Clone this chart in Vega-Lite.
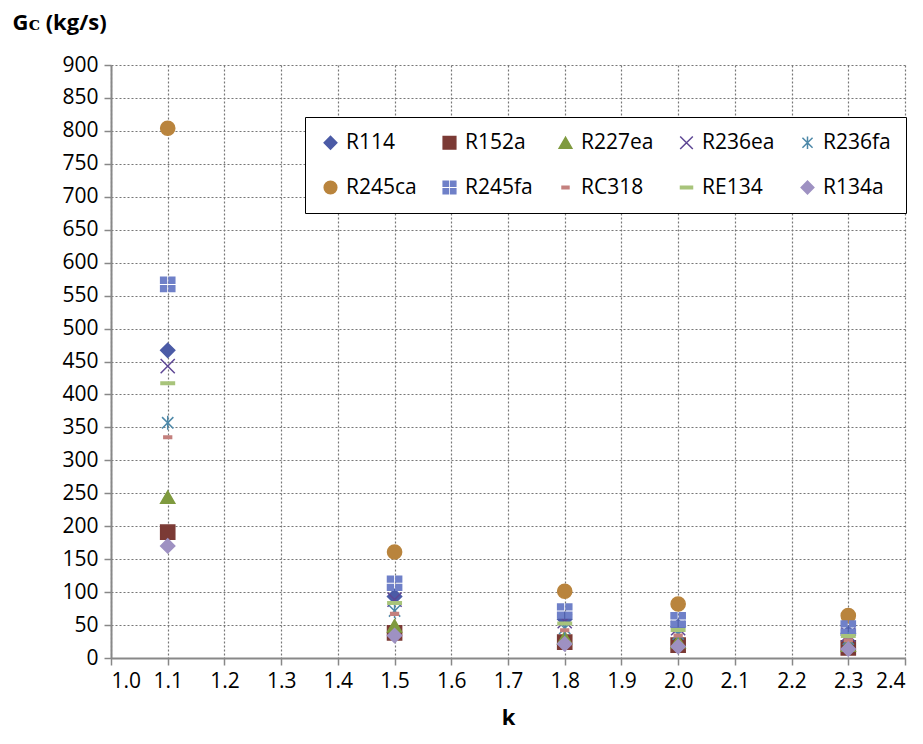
{
  "$schema": "https://vega.github.io/schema/vega-lite/v6.json",
  "autosize": "none",
  "padding": {"left": 111, "top": 65, "right": 18, "bottom": 86},
  "width": 794,
  "height": 593,
  "background": "white",
  "view": {"stroke": null},
  "config": {"font": "Open Sans"},
  "data": {"values": [
    {"series": "R114", "k": 1.1, "G": 467}, {"series": "R114", "k": 1.5, "G": 93.4}, {"series": "R114", "k": 1.8, "G": 58.8}, {"series": "R114", "k": 2.0, "G": 47.6}, {"series": "R114", "k": 2.3, "G": 37.4},
    {"series": "R152a", "k": 1.1, "G": 191}, {"series": "R152a", "k": 1.5, "G": 38.2}, {"series": "R152a", "k": 1.8, "G": 24.1}, {"series": "R152a", "k": 2.0, "G": 19.5}, {"series": "R152a", "k": 2.3, "G": 15.3},
    {"series": "R227ea", "k": 1.1, "G": 244}, {"series": "R227ea", "k": 1.5, "G": 48.8}, {"series": "R227ea", "k": 1.8, "G": 30.7}, {"series": "R227ea", "k": 2.0, "G": 24.9}, {"series": "R227ea", "k": 2.3, "G": 19.5},
    {"series": "R236ea", "k": 1.1, "G": 443}, {"series": "R236ea", "k": 1.5, "G": 88.6}, {"series": "R236ea", "k": 1.8, "G": 55.8}, {"series": "R236ea", "k": 2.0, "G": 45.2}, {"series": "R236ea", "k": 2.3, "G": 35.4},
    {"series": "R236fa", "k": 1.1, "G": 357}, {"series": "R236fa", "k": 1.5, "G": 71.4}, {"series": "R236fa", "k": 1.8, "G": 45.0}, {"series": "R236fa", "k": 2.0, "G": 36.4}, {"series": "R236fa", "k": 2.3, "G": 28.6},
    {"series": "R245ca", "k": 1.1, "G": 804}, {"series": "R245ca", "k": 1.5, "G": 160.8}, {"series": "R245ca", "k": 1.8, "G": 101.3}, {"series": "R245ca", "k": 2.0, "G": 82.0}, {"series": "R245ca", "k": 2.3, "G": 64.3},
    {"series": "R245fa", "k": 1.1, "G": 567}, {"series": "R245fa", "k": 1.5, "G": 113.4}, {"series": "R245fa", "k": 1.8, "G": 71.4}, {"series": "R245fa", "k": 2.0, "G": 57.8}, {"series": "R245fa", "k": 2.3, "G": 45.4},
    {"series": "RC318", "k": 1.1, "G": 335}, {"series": "RC318", "k": 1.5, "G": 67.0}, {"series": "RC318", "k": 1.8, "G": 42.2}, {"series": "RC318", "k": 2.0, "G": 34.2}, {"series": "RC318", "k": 2.3, "G": 26.8},
    {"series": "RE134", "k": 1.1, "G": 417}, {"series": "RE134", "k": 1.5, "G": 83.4}, {"series": "RE134", "k": 1.8, "G": 52.5}, {"series": "RE134", "k": 2.0, "G": 42.5}, {"series": "RE134", "k": 2.3, "G": 33.4},
    {"series": "R134a", "k": 1.1, "G": 170}, {"series": "R134a", "k": 1.5, "G": 34.0}, {"series": "R134a", "k": 1.8, "G": 21.4}, {"series": "R134a", "k": 2.0, "G": 17.3}, {"series": "R134a", "k": 2.3, "G": 13.6}
  ]},
  "mark": {"type": "point", "filled": true, "opacity": 1, "size": 200, "strokeWidth": 1.5},
  "encoding": {
    "x": {
      "field": "k", "type": "quantitative",
      "scale": {"domain": [1.0, 2.4], "nice": false, "zero": false},
      "axis": {
        "title": "k", "titleFontSize": 22, "titleFontWeight": "bold", "titleColor": "black", "titlePadding": 16,
        "values": [1.0, 1.1, 1.2, 1.3, 1.4, 1.5, 1.6, 1.7, 1.8, 1.9, 2.0, 2.1, 2.2, 2.3, 2.4],
        "format": ".1f", "labelFontSize": 21, "labelColor": "black", "labelPadding": 5,
        "domainColor": "#888", "domainWidth": 2, "tickColor": "#888", "tickSize": 7, "tickWidth": 1.5,
        "grid": true, "gridColor": "#777", "gridDash": [2, 2], "gridWidth": 1.2
      }
    },
    "y": {
      "field": "G", "type": "quantitative",
      "scale": {"domain": [0, 900], "nice": false},
      "axis": {
        "title": "Gᴄ (kg/s)", "titleFontSize": 22, "titleFontWeight": "bold", "titleColor": "black",
        "titleAngle": 0, "titleAlign": "left", "titleBaseline": "middle", "titleX": -99, "titleY": -43,
        "values": [0, 50, 100, 150, 200, 250, 300, 350, 400, 450, 500, 550, 600, 650, 700, 750, 800, 850, 900],
        "labelFontSize": 21, "labelColor": "black", "labelPadding": 6,
        "domainColor": "#888", "domainWidth": 2, "tickColor": "#888", "tickSize": 7, "tickWidth": 1.5,
        "grid": true, "gridColor": "#777", "gridDash": [2, 2], "gridWidth": 1.2
      }
    },
    "shape": {
      "field": "series", "type": "nominal",
      "scale": {
        "domain": ["R114", "R152a", "R227ea", "R236ea", "R236fa", "R245ca", "R245fa", "RC318", "RE134", "R134a"],
        "range": ["diamond", "square", "triangle-up", "M-1,-1L1,1M-1,1L1,-1", "M-0.8,-0.8L0.8,0.8M-0.8,0.8L0.8,-0.8M0,-1L0,1", "circle", "M-1,-1H-0.18V-0.18H-1Z M0.18,-1H1V-0.18H0.18Z M-1,0.18H-0.18V1H-1Z M0.18,0.18H1V1H0.18Z", "M-0.55,-0.18H0.55V0.18H-0.55Z", "M-0.95,-0.18H0.95V0.18H-0.95Z", "diamond"]
      },
      "legend": {
        "title": null, "orient": "none", "legendX": 194, "legendY": 52, "columns": 5, "direction": "horizontal",
        "labelFontSize": 21, "labelColor": "black", "symbolSize": 160, "columnPadding": 22, "rowPadding": 23,
        "padding": 15, "strokeColor": "black", "fillColor": "white", "symbolStrokeWidth": 1.5, "labelOffset": 5
      }
    },
    "fill": {
      "field": "series", "type": "nominal",
      "scale": {
        "domain": ["R114", "R152a", "R227ea", "R236ea", "R236fa", "R245ca", "R245fa", "RC318", "RE134", "R134a"],
        "range": ["#4B5BA6", "#7B3A35", "#7F9A3F", "#5E4795", "#4D88A8", "#B9843D", "#6F80C8", "#C4807E", "#A8C47B", "#9E91C2"]
      }
    },
    "stroke": {
      "field": "series", "type": "nominal",
      "scale": {
        "domain": ["R114", "R152a", "R227ea", "R236ea", "R236fa", "R245ca", "R245fa", "RC318", "RE134", "R134a"],
        "range": ["#4B5BA6", "#7B3A35", "#7F9A3F", "#5E4795", "#4D88A8", "#B9843D", "#6F80C8", "#C4807E", "#A8C47B", "#9E91C2"]
      }
    }
  }
}
